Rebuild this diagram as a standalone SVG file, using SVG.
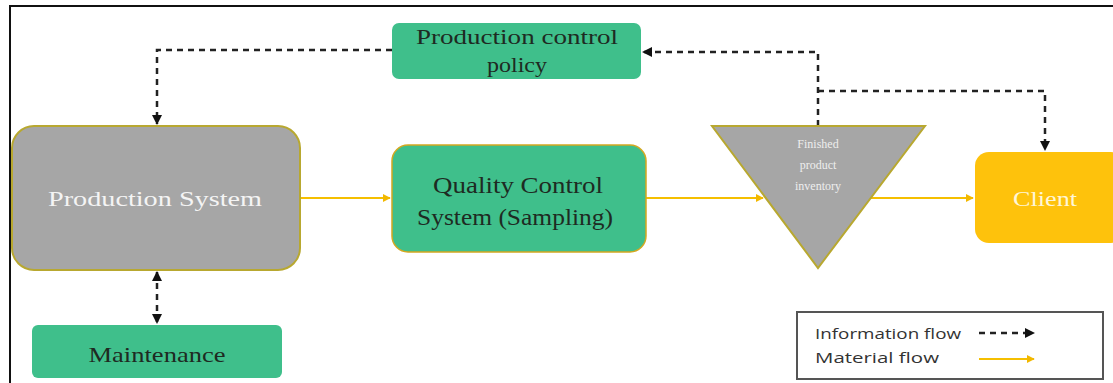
<svg xmlns="http://www.w3.org/2000/svg" width="1113" height="383" viewBox="0 0 1113 383">
<defs>
<marker id="ab" viewBox="0 0 10 10" refX="9" refY="5" markerWidth="4" markerHeight="4" orient="auto-start-reverse"><path d="M0,0 L10,5 L0,10 z" fill="#111"/></marker>
<marker id="ay" viewBox="0 0 10 10" refX="9" refY="5" markerWidth="4" markerHeight="4" orient="auto"><path d="M0,0 L10,5 L0,10 z" fill="#f2b800"/></marker>
<style>
.green{fill:#3fbf8b;}
.gray{fill:#a6a6a6;stroke:#b8a830;stroke-width:2;}
.serif{font-family:"Liberation Serif",serif;text-anchor:middle;}
.dark{fill:#1e2a22;}
.info{fill:none;stroke:#222;stroke-width:2.5;stroke-dasharray:6,5;}
.mat{fill:none;stroke:#f5bf00;stroke-width:2;}
.leg{font-family:"Open Sans","DejaVu Sans",sans-serif;font-size:15px;fill:#333;}
</style>
</defs>
<rect width="1113" height="383" fill="#fff"/>
<path d="M10,383 L10,6 L1113,6" fill="none" stroke="#111" stroke-width="2"/>
<g id="connectors">
<path class="info" d="M392,50 L157,50 L157,124" marker-end="url(#ab)"/>
<path class="info" d="M818,126 L818,52 L643,52" marker-end="url(#ab)"/>
<path class="info" d="M818,91 L1045,91 L1045,150" marker-end="url(#ab)"/>
<path class="info" d="M157,272 L157,323" marker-start="url(#ab)" marker-end="url(#ab)"/>
<path class="mat" d="M300,198 L390,198" marker-end="url(#ay)"/>
<path class="mat" d="M646,198 L763,198" marker-end="url(#ay)"/>
<path class="mat" d="M871,198 L973,198" marker-end="url(#ay)"/>
</g>
<g id="policy">
<rect class="green" x="392" y="23" width="249" height="56" rx="7"/>
<text class="serif dark" x="517" y="44" font-size="22" textLength="202" lengthAdjust="spacingAndGlyphs">Production  control</text>
<text class="serif dark" x="517" y="72" font-size="22" textLength="60" lengthAdjust="spacingAndGlyphs">policy</text>
</g>
<g id="production">
<rect class="gray" x="12" y="126" width="288" height="144" rx="22"/>
<text class="serif" x="155" y="206" font-size="22" fill="#f4f4f4" textLength="214" lengthAdjust="spacingAndGlyphs">Production  System</text>
</g>
<g id="qc">
<rect x="392" y="145" width="254" height="107" rx="16" fill="#3fbf8b" stroke="#d4a820" stroke-width="1.5"/>
<text class="serif dark" x="518" y="193" font-size="24" textLength="170" lengthAdjust="spacingAndGlyphs">Quality  Control</text>
<text class="serif dark" x="515" y="225" font-size="24" textLength="196" lengthAdjust="spacingAndGlyphs">System  (Sampling)</text>
</g>
<g id="inventory">
<path class="gray" d="M712,126 L925,126 L818,268 z"/>
<text class="serif" font-size="12" fill="#eee"><tspan x="818" y="148">Finished</tspan><tspan x="818" y="169">product</tspan><tspan x="818" y="190">inventory</tspan></text>
</g>
<g id="client">
<rect x="975" y="152" width="150" height="91" rx="14" fill="#fec20c"/>
<text class="serif" x="1045" y="206" font-size="22" fill="#fff6d8" textLength="64" lengthAdjust="spacingAndGlyphs">Client</text>
</g>
<g id="maintenance">
<rect class="green" x="32" y="325" width="250" height="53" rx="6"/>
<text class="serif dark" x="157" y="362" font-size="22" textLength="137" lengthAdjust="spacingAndGlyphs">Maintenance</text>
</g>
<g id="legend">
<rect x="797" y="312" width="306" height="67" fill="#fff" stroke="#555" stroke-width="2"/>
<text class="leg" x="815" y="339" textLength="146" lengthAdjust="spacingAndGlyphs">Information flow</text>
<text class="leg" x="815" y="363" textLength="124" lengthAdjust="spacingAndGlyphs">Material flow</text>
<path class="info" d="M979,333 L1034,333" stroke-width="2" stroke-dasharray="5,4" marker-end="url(#ab)"/>
<path class="mat" d="M979,359 L1034,359" marker-end="url(#ay)"/>
</g>
</svg>
